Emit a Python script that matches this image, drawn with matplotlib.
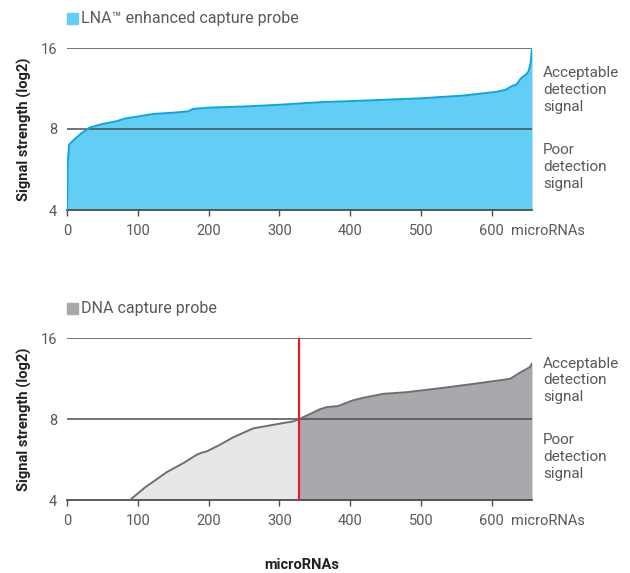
import matplotlib
matplotlib.use("Agg")
import matplotlib.pyplot as plt
from matplotlib.patches import Rectangle
import numpy as np

plt.rcParams['font.family'] = ['Roboto', 'DejaVu Sans']

# ---- data ----
lna_x = [0, 1, 3, 10, 20, 32, 50, 70, 82, 100, 122, 150, 171, 178, 200, 250, 296,
         357, 420, 499, 560, 607, 620, 626, 630, 635, 642, 648, 652, 655, 657]
lna_y = [4, 6.0, 7.0, 7.3, 7.7, 8.1, 8.35, 8.55, 8.75, 8.9, 9.1, 9.2, 9.3, 9.5, 9.6, 9.7, 9.83,
         10.06, 10.2, 10.4, 10.65, 11.0, 11.2, 11.45, 11.6, 11.7, 12.4, 12.7, 13.1, 14.0, 16.0]

dna_x = [89, 110, 141, 165, 183, 190, 197, 215, 235, 263, 301, 320, 328, 345, 357, 367, 383,
         404, 418, 447, 480, 531, 574, 626, 642, 654, 657]
dna_y = [4, 4.45, 5.08, 5.5, 5.89, 6.0, 6.06, 6.4, 6.85, 7.39, 7.7, 7.85, 8.0, 8.4, 8.7, 8.87, 8.95,
         9.4, 9.6, 9.94, 10.08, 10.46, 10.82, 11.3, 12.0, 12.5, 12.9]

threshold = 8
cutoff_x = 328
x_ticks = [0, 100, 200, 300, 400, 500, 600]
y_ticks = [4, 8, 16]
x_max = 657

TXT = '#58595b'
AX = '#4d4d4f'

fig = plt.figure(figsize=(6.3, 5.73), dpi=100)
ax1 = fig.add_axes([67/630, 1-210/573, 465/630, 162/573])
ax2 = fig.add_axes([67/630, 1-500/573, 465/630, 161.7/573])


def style(ax):
    ax.set_yscale('log', base=2)
    ax.set_ylim(4, 16)
    ax.set_xlim(0, x_max)
    ax.set_yticks(y_ticks)
    ax.set_yticklabels([str(v) for v in y_ticks])
    ax.minorticks_off()
    ax.set_xticks(x_ticks)
    ax.set_xticklabels([str(v) for v in x_ticks])
    for s in ['top', 'right', 'left']:
        ax.spines[s].set_visible(False)
    ax.spines['bottom'].set_color(AX)
    ax.spines['bottom'].set_linewidth(1.3)
    ax.tick_params(axis='x', length=4, width=1, color=AX, labelcolor=TXT, labelsize=10.5, pad=6)
    ax.tick_params(axis='y', length=0, labelcolor=TXT, labelsize=10.5, pad=7)
    for yv in [8, 16]:
        ax.axhline(yv, color=AX, lw=1.1, zorder=3)
    ax.set_ylabel('Signal strength (log2)', fontsize=10.5, fontweight='bold', color='#231f20')
    ax.yaxis.set_label_coords(-0.075, 0.5)
    ax.annotate('microRNAs', xy=(627, 0), xycoords=('data', 'axes fraction'),
                xytext=(0, -10), textcoords='offset points', va='top', ha='left',
                fontsize=10.5, color=TXT, annotation_clip=False)
    ax.text(1.024, 0.74, 'Acceptable\ndetection\nsignal', transform=ax.transAxes,
            ha='left', va='center', fontsize=11, color=TXT, linespacing=1.25)
    ax.text(1.024, 0.265, 'Poor\ndetection\nsignal', transform=ax.transAxes,
            ha='left', va='center', fontsize=11, color=TXT, linespacing=1.25)


style(ax1)
style(ax2)

# top: LNA
ax1.fill_between(lna_x, lna_y, 4, color='#62cdf5', lw=0, zorder=1)
ax1.plot(lna_x, lna_y, color='#0aa6e0', lw=1.4, zorder=4)

# bottom: DNA
dx = np.array(dna_x); dy = np.array(dna_y)
left = dx <= cutoff_x
right = dx >= cutoff_x
ax2.fill_between(dx[left], dy[left], 4, color='#e6e7e8', lw=0, zorder=1)
ax2.fill_between(dx[right], dy[right], 4, color='#a7a9ac', lw=0, zorder=1)
ax2.plot(dx, dy, color='#6d6e71', lw=1.4, zorder=4)
ax2.plot([cutoff_x, cutoff_x], [4, 16], color='#ed1c24', lw=1.6, zorder=5)

# legends
for ax, label, col, ypx in [(ax1, 'LNA™ enhanced capture probe', '#62cdf5', 18.5),
                            (ax2, 'DNA capture probe', '#a7a9ac', 308.5)]:
    fig.patches.append(Rectangle((67/630, 1-(ypx+5.5)/573), 10.5/630, 11/573,
                                 transform=fig.transFigure, color=col, figure=fig))
    fig.text(81/630, 1-ypx/573, label, ha='left', va='center', fontsize=11.5, color=TXT)

fig.text(302/630, 1-565/573, 'microRNAs', ha='center', va='center', fontsize=10.5,
         fontweight='bold', color='#231f20')

fig.savefig('out.png', dpi=100)
